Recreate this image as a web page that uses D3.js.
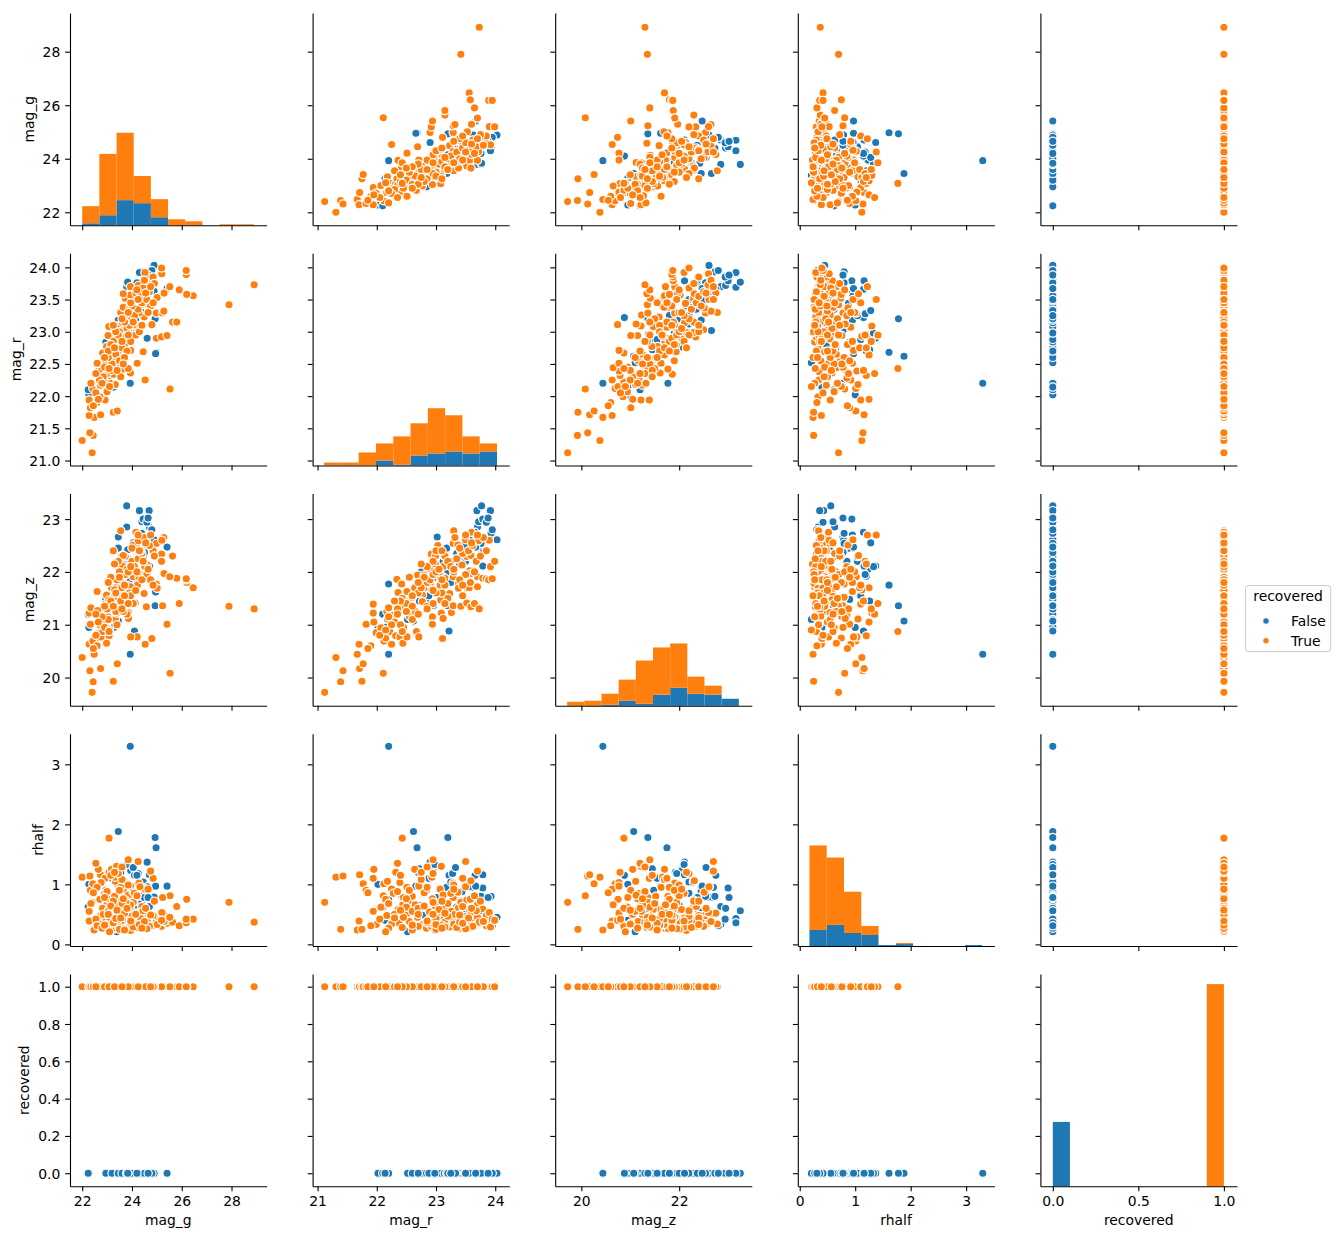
<!DOCTYPE html>
<html>
<head>
<meta charset="utf-8">
<script src="https://cdn.jsdelivr.net/npm/d3@7"></script>
<style>
    body { margin: 0; background: #fff; }
    text { font-family: "DejaVu Sans", sans-serif; font-size: 13.9px; fill: #000; }
</style>
</head>
<body>
<script>
// pair grid of the injected dwarfs, coloured by whether they were recovered
var variables = ["mag_g", "mag_r", "mag_z", "rhalf", "recovered"];
var hueLevels = ["False", "True"];
var hueColors = ["#1f77b4", "#ff7f0e"];

// axis limits
var xLimits = [[21.51, 29.41], [20.916, 24.236], [19.465, 23.485], [-0.035, 3.51], [-0.0725, 1.0766]];
var yLimits = [[21.514, 29.445], [20.922, 24.219], [19.465, 23.485], [-0.028, 3.51], [-0.07, 1.068]];
var xTickValues = [[22, 24, 26, 28], [21, 22, 23, 24], [20, 22], [0, 1, 2, 3], [0, 0.5, 1]];
var yTickValues = [[22, 24, 26, 28], [21, 21.5, 22, 22.5, 23, 23.5, 24], [20, 21, 22, 23], [0, 1, 2, 3], [0, 0.2, 0.4, 0.6, 0.8, 1]];
var xTickFormats = ["d", "d", "d", "d", ".1f"];
var yTickFormats = ["d", ".1f", "d", "d", ".1f"];

// rows: [mag_g, mag_r, mag_z, rhalf]
var notRecoveredRows = [
    [22.27,22.02,20.95,1.00], [22.24,22.10,21.20,0.62], [23.91,22.20,21.77,0.75], [23.93,22.20,20.44,3.30],
    [23.27,22.14,20.95,0.40], [23.38,22.52,21.10,0.21], [23.45,22.62,21.07,1.88], [24.97,22.68,21.75,1.61],
    [24.95,22.66,21.62,0.97], [23.10,22.60,21.30,0.55], [23.50,22.72,21.45,1.26], [23.40,22.78,21.85,0.48],
    [23.60,22.80,21.60,0.35], [23.70,22.75,22.00,0.65], [22.95,22.84,21.48,0.90], [23.55,22.70,21.92,1.20],
    [24.61,22.90,22.11,1.37], [23.45,23.02,22.66,0.78], [23.30,22.96,21.37,0.60], [23.85,23.00,21.90,0.45],
    [23.95,22.95,22.05,1.23], [23.60,23.05,21.95,0.30], [24.10,23.12,22.20,0.85], [23.75,22.92,21.70,0.55],
    [23.20,22.88,21.55,1.10], [24.20,23.08,21.85,0.70], [23.65,23.14,22.30,0.40], [23.80,22.98,22.10,1.33],
    [24.93,23.20,21.36,1.78], [23.45,23.18,22.45,0.95], [24.10,23.22,20.88,1.15], [23.73,23.25,22.20,1.04],
    [24.00,23.30,22.05,0.50], [24.35,23.35,22.35,0.62], [23.95,23.40,22.15,0.38], [24.25,23.28,21.95,1.18],
    [24.40,23.42,22.40,0.72], [23.85,23.38,22.25,0.28], [24.15,23.20,22.00,0.58], [24.55,23.44,22.45,0.88],
    [24.05,23.33,22.55,1.28], [23.60,23.25,21.80,0.45], [24.45,23.53,22.29,1.04], [24.69,23.69,23.16,0.36],
    [24.89,23.63,22.60,0.79], [24.70,23.69,22.85,0.63], [24.45,23.52,22.40,0.55], [23.79,23.70,22.85,0.33],
    [24.30,23.60,22.70,0.95], [24.55,23.48,22.50,0.42], [24.20,23.66,22.75,1.15], [24.62,23.56,22.62,0.96],
    [24.40,23.72,22.95,0.60], [24.00,23.50,22.20,0.27], [24.89,24.03,22.61,0.45], [24.32,23.90,23.16,0.43],
    [23.79,23.77,23.25,0.56], [24.45,23.79,23.00,0.94], [24.39,23.93,22.73,0.80], [23.83,23.77,22.42,0.78],
    [24.60,23.85,22.94,0.42], [24.70,23.79,22.11,1.16], [24.30,23.92,23.16,0.36], [24.50,23.80,22.37,0.78],
    [24.80,23.95,22.80,0.31], [24.20,23.76,22.54,0.80], [24.65,23.88,23.02,0.78], [25.41,23.67,22.47,0.97]
];

var recoveredRows = [
    [22.40,21.12,19.72,0.70], [22.00,21.31,20.38,1.12], [22.44,21.39,19.92,0.25], [22.31,21.43,20.13,1.14],
    [22.48,21.67,20.44,0.24], [22.28,21.70,20.63,0.39], [22.74,21.71,20.17,1.16], [23.25,21.75,19.93,0.25],
    [23.41,21.77,20.26,1.01], [22.33,21.82,21.01,0.90], [22.28,21.94,21.22,0.55], [22.92,21.94,21.39,1.10],
    [22.71,21.99,20.85,0.33], [23.00,22.07,20.94,0.62], [25.53,22.11,20.08,0.81], [22.43,22.12,20.69,1.01],
    [22.71,22.15,20.75,0.75], [22.74,22.17,21.25,0.48], [23.33,22.18,21.11,1.05], [22.35,22.20,21.32,0.68],
    [23.08,22.22,20.87,0.30], [24.53,22.25,20.63,0.92], [22.91,22.28,21.18,0.85], [23.08,22.32,20.79,1.20],
    [23.25,22.34,21.86,0.42], [23.94,22.36,21.61,0.58], [22.62,22.38,21.27,0.35], [22.76,22.39,20.77,1.03],
    [23.65,22.42,21.77,0.80], [23.85,22.43,21.50,0.28], [22.98,22.44,20.65,0.66], [22.60,22.51,21.63,0.95],
    [24.21,22.51,20.77,0.52], [22.95,22.55,21.16,0.38], [23.41,22.55,21.44,0.73], [23.18,22.64,21.70,1.25],
    [22.82,22.67,20.87,0.60], [24.45,22.69,21.94,0.45], [23.95,22.71,20.77,0.97], [22.98,22.77,21.56,0.33],
    [23.22,22.77,21.44,0.62], [23.71,22.80,21.94,0.86], [23.38,22.84,21.71,0.27], [23.69,22.89,22.06,0.54],
    [24.98,22.90,21.77,0.43], [25.19,22.92,22.34,0.30], [23.31,22.93,21.66,1.12], [23.04,22.94,21.15,0.76],
    [25.41,22.94,21.01,0.35], [23.58,22.99,22.30,0.64], [23.95,22.99,22.15,0.23], [24.18,23.03,22.50,0.48],
    [23.65,23.07,21.91,0.92], [24.22,23.07,21.75,0.36], [23.07,23.08,21.47,0.58], [23.38,23.09,21.22,1.30],
    [24.05,23.11,21.91,0.70], [24.80,23.11,20.74,0.40], [23.86,23.12,21.12,0.82], [23.62,23.14,22.11,0.44],
    [25.63,23.15,22.30,0.37], [25.80,23.15,21.88,0.63], [24.49,23.23,21.59,0.29], [23.85,23.26,21.23,0.55],
    [24.98,23.29,22.54,0.41], [25.23,23.29,21.36,0.78], [24.28,23.29,21.91,1.02], [23.55,23.30,22.78,0.34],
    [25.28,23.32,22.65,0.50], [24.05,23.37,22.51,0.87], [23.65,23.38,21.78,0.26], [23.92,23.38,21.69,0.61],
    [27.90,23.42,21.35,0.70], [24.61,23.44,22.13,0.39], [24.32,23.50,22.61,0.96], [24.13,23.52,21.41,0.47],
    [23.73,23.52,22.29,0.74], [25.01,23.53,21.69,0.33], [26.46,23.56,21.70,0.42], [23.94,23.57,22.02,0.57],
    [26.20,23.58,21.80,0.75], [23.65,23.59,22.31,1.06], [24.58,23.59,21.34,0.28], [24.16,23.60,22.75,0.52],
    [25.29,23.60,21.97,0.38], [25.90,23.65,21.40,0.31], [23.94,23.70,21.72,0.66], [25.52,23.70,21.91,0.45],
    [24.26,23.72,22.59,0.35], [28.91,23.73,21.30,0.37], [24.52,23.79,21.88,0.59], [24.61,23.85,21.87,0.31],
    [24.85,23.85,22.40,0.48], [26.18,23.89,21.85,0.36], [25.20,23.90,22.60,0.53], [24.52,23.92,22.10,0.29],
    [26.18,23.95,21.87,0.42], [25.19,23.99,22.20,0.40], [23.10,22.45,21.35,0.45], [23.30,22.60,21.52,0.80],
    [23.45,22.70,21.60,0.30], [23.20,22.50,21.40,0.62], [23.55,22.85,21.80,0.95], [23.40,22.90,21.85,0.40],
    [23.75,22.95,21.95,0.70], [23.50,23.00,22.00,0.25], [23.80,23.05,22.05,0.58], [23.60,22.75,21.70,1.08],
    [23.00,22.35,21.30,0.88], [22.85,22.30,21.05,0.50], [22.70,22.25,21.00,0.34], [23.15,22.40,21.45,1.15],
    [23.35,22.65,21.25,0.66], [23.90,23.10,21.60,0.32], [24.00,23.20,22.20,0.47], [24.10,23.25,22.10,0.85],
    [23.70,23.15,21.75,0.52], [24.25,23.35,22.25,0.28], [24.40,23.45,22.35,0.63], [24.00,23.40,22.45,0.37],
    [23.85,23.30,22.00,0.99], [24.35,23.55,22.40,0.44], [24.70,23.62,22.50,0.30], [24.45,23.68,22.20,0.56],
    [24.90,23.75,22.30,0.72], [24.60,23.50,21.95,0.26], [24.75,23.40,21.85,0.49], [23.25,22.85,21.35,0.36],
    [23.05,22.60,21.10,0.55], [22.90,22.45,20.95,0.78], [22.55,22.05,20.80,0.42], [22.60,21.90,20.60,0.31],
    [22.45,21.85,20.55,0.86], [22.80,22.20,21.15,0.27], [23.45,22.95,22.20,1.18], [23.35,23.00,21.60,0.43],
    [23.60,23.20,21.50,0.68], [23.95,23.45,21.55,0.35], [24.20,23.65,22.00,0.81], [24.05,23.15,21.40,0.29],
    [23.80,22.70,21.20,0.60], [24.15,22.95,21.65,0.50], [24.30,23.00,22.40,0.33], [23.50,22.55,21.90,0.90],
    [22.65,21.95,21.05,1.25], [23.10,22.15,20.90,0.21], [23.55,22.30,21.45,0.44], [23.25,23.10,22.40,0.72],
    [24.50,23.80,22.65,0.38], [24.65,23.30,22.05,0.92], [23.70,22.60,21.55,0.24], [23.15,22.80,21.90,0.64],
    [24.85,23.45,21.75,1.10], [24.40,23.10,21.85,0.27], [23.05,22.70,21.80,0.50], [22.90,22.60,21.35,0.32],
    [23.65,22.50,21.25,0.76], [23.95,22.85,22.10,0.39], [24.55,23.60,22.55,0.60], [23.40,22.40,21.00,0.57],
    [23.08,22.43,20.87,1.77], [24.25,23.50,22.70,1.38], [23.85,22.95,21.40,1.41], [22.55,22.35,21.20,1.35],
    [23.30,22.75,22.15,1.20], [24.75,23.70,22.70,1.22], [23.60,22.85,21.30,1.29]
];

// diagonal histograms: ten bins over each range, counts
var histRanges = [[22.0, 28.9], [21.11, 24.03], [19.71, 23.22], [0.175, 3.29], [0, 1]];
var magGHistFalse = [2, 10, 25, 22, 8, 0, 0, 0, 0, 0];
var magGHistTrue  = [17, 61, 67, 27, 18, 6, 4, 0, 1, 1];
var magRHistFalse = [0, 0, 0, 5, 1, 10, 12, 14, 12, 14];
var magRHistTrue  = [3, 3, 13, 17, 28, 32, 45, 36, 17, 8];
var magZHistFalse = [0, 0, 1, 5, 2, 11, 18, 12, 11, 7];
var magZHistTrue  = [4, 5, 11, 21, 43, 47, 44, 17, 9, 0];
var rhalfHistFalse = [16, 21, 13, 11, 1, 2, 0, 0, 0, 1];
var rhalfHistTrue  = [84, 67, 41, 9, 0, 1, 0, 0, 0, 0];
var recoveredHistFalse = [64, 0, 0, 0, 0, 0, 0, 0, 0, 0];
var recoveredHistTrue  = [0, 0, 0, 0, 0, 0, 0, 0, 0, 201];

var histFalse = [magGHistFalse, magRHistFalse, magZHistFalse, rhalfHistFalse, recoveredHistFalse];
var histTrue = [magGHistTrue, magRHistTrue, magZHistTrue, rhalfHistTrue, recoveredHistTrue];

// figure layout (matplotlib-ish)
var W = 1338, H = 1238;
var left0 = 70, top0 = 13;
var colStep = 242.6, rowStep = 240.25;
var panelW = 196.6, panelH = 212.3;
var tickLen = 4.86, tickPad = 4.86;

var groups = [
    notRecoveredRows.map(function (d) { return d.concat([0]); }),
    recoveredRows.map(function (d) { return d.concat([1]); })
];

var svg = d3.select("body").append("svg")
    .attr("width", W)
    .attr("height", H);

// the diagonal axes share one count scale
var maxCount = d3.max(histFalse.map(function (f, k) {
    return d3.max(f.map(function (v, b) { return v + histTrue[k][b]; }));
}));
var countScale = d3.scaleLinear().domain([0, maxCount * 1.05]).range([panelH, 0]);

for (var i = 0; i < variables.length; i++) {
    for (var j = 0; j < variables.length; j++) {
        drawPanel(i, j);
    }
}

function drawPanel(i, j) {
    var g = svg.append("g")
        .attr("transform", "translate(" + (left0 + j * colStep) + "," + (top0 + i * rowStep) + ")");

    var x = d3.scaleLinear().domain(xLimits[j]).range([0, panelW]);
    var y = d3.scaleLinear().domain(yLimits[i]).range([panelH, 0]);

    if (i === j) {
        var lo = histRanges[j][0], hi = histRanges[j][1];
        var step = (hi - lo) / 10;
        var bins = histFalse[j].map(function (f, b) {
            return {x0: lo + b * step, x1: lo + (b + 1) * step, f: f, t: histTrue[j][b]};
        });
        // stacked: False at the bottom, True on top of it
        g.append("g").selectAll("rect.f")
            .data(bins.filter(function (d) { return d.f > 0; }))
            .enter().append("rect")
            .attr("x", function (d) { return x(d.x0); })
            .attr("width", function (d) { return x(d.x1) - x(d.x0); })
            .attr("y", function (d) { return countScale(d.f); })
            .attr("height", function (d) { return countScale(0) - countScale(d.f); })
            .attr("fill", hueColors[0]);
        g.append("g").selectAll("rect.t")
            .data(bins.filter(function (d) { return d.t > 0; }))
            .enter().append("rect")
            .attr("x", function (d) { return x(d.x0); })
            .attr("width", function (d) { return x(d.x1) - x(d.x0); })
            .attr("y", function (d) { return countScale(d.f + d.t); })
            .attr("height", function (d) { return countScale(d.f) - countScale(d.f + d.t); })
            .attr("fill", hueColors[1]);
    } else {
        groups.forEach(function (rows, h) {
            g.append("g").selectAll("circle")
                .data(rows)
                .enter().append("circle")
                .attr("cx", function (d) { return x(d[j]); })
                .attr("cy", function (d) { return y(d[i]); })
                .attr("r", 4.15)
                .attr("fill", hueColors[h])
                .attr("stroke", "#fff")
                .attr("stroke-width", 1.2);
        });
    }

    // left axis (labels only in the first column)
    var yAxis = d3.axisLeft(y)
        .tickValues(yTickValues[i])
        .tickSize(tickLen)
        .tickSizeOuter(0)
        .tickPadding(tickPad)
        .tickFormat(j === 0 ? d3.format(yTickFormats[i]) : "");
    var ya = g.append("g").call(yAxis);
    ya.selectAll("text").attr("dy", "0.36em");

    // bottom axis (labels only in the last row)
    var xAxis = d3.axisBottom(x)
        .tickValues(xTickValues[j])
        .tickSize(tickLen)
        .tickSizeOuter(0)
        .tickPadding(tickPad)
        .tickFormat(i === variables.length - 1 ? d3.format(xTickFormats[j]) : "");
    g.append("g").attr("transform", "translate(0," + panelH + ")").call(xAxis);

    g.selectAll(".domain, .tick line").attr("stroke", "#000").attr("stroke-width", 1.1);

    if (j === 0) {
        var minX = 0;
        ya.selectAll("text").each(function () {
            var bb = this.getBBox();
            minX = Math.min(minX, bb.x);
        });
        g.append("text")
            .attr("transform", "translate(" + (minX - 5.56 - 3.2) + "," + (panelH / 2) + ") rotate(-90)")
            .attr("text-anchor", "middle")
            .text(variables[i]);
    }
    if (i === variables.length - 1) {
        g.append("text")
            .attr("x", panelW / 2)
            .attr("y", panelH + 38.7)
            .attr("text-anchor", "middle")
            .text(variables[j]);
    }
}

// legend
var legend = svg.append("g").attr("transform", "translate(1245.5,585.5)");
legend.append("rect")
    .attr("width", 85.2)
    .attr("height", 66.2)
    .attr("rx", 3)
    .attr("fill", "#fff")
    .attr("stroke", "#cccccc")
    .attr("stroke-width", 1);
legend.append("text")
    .attr("x", 42.6)
    .attr("y", 15.8)
    .attr("text-anchor", "middle")
    .text("recovered");
hueLevels.forEach(function (lvl, h) {
    var cy = 35.5 + h * 19.7;
    legend.append("circle")
        .attr("cx", 20.5)
        .attr("cy", cy)
        .attr("r", 3.2)
        .attr("fill", hueColors[h])
        .attr("stroke", "#fff")
        .attr("stroke-width", 0.8);
    legend.append("text")
        .attr("x", 45.5)
        .attr("y", cy)
        .attr("dy", "0.36em")
        .text(lvl);
});
</script>
</body>
</html>
